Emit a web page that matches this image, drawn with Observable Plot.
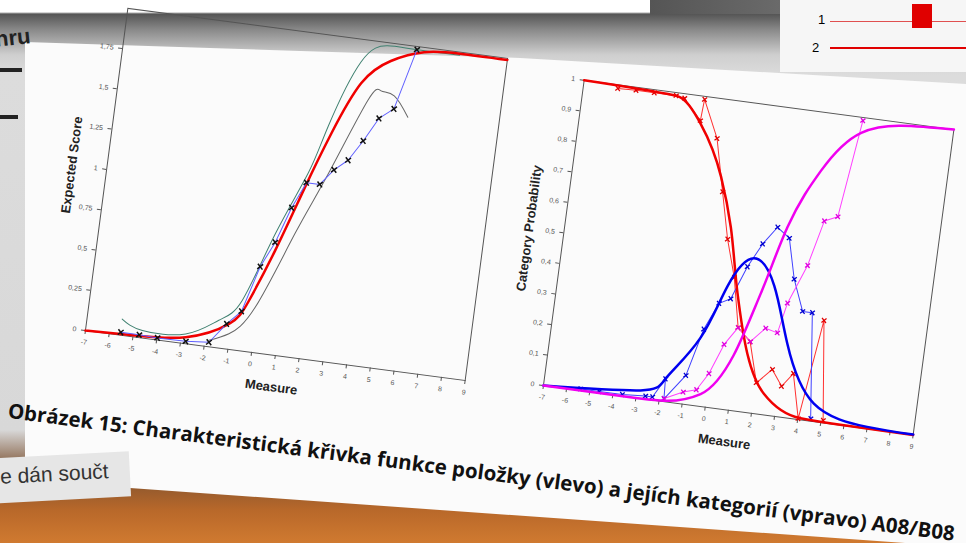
<!DOCTYPE html><html><head><meta charset="utf-8">
<script src="https://cdn.jsdelivr.net/npm/d3@7"></script>
<script src="https://cdn.jsdelivr.net/npm/@observablehq/plot@0.6"></script>
<style>
body{margin:0;width:966px;height:543px;overflow:hidden;position:relative;font-family:Arial,"Liberation Sans",sans-serif;
background:linear-gradient(180deg,#fff 0px,#fff 12px,#555 14px,#8a8a8a 30px,#cfcfcf 55px,#dcdcdc 75px,#d8d8d8 430px,#7a5030 470px,#b8682a 510px,#d07a30 543px);}
.abs{position:absolute}
</style></head><body>
<div class="abs" style="left:650px;top:0;width:316px;height:14px;background:linear-gradient(90deg,#555,#888)"></div>
<div class="abs" style="left:780px;top:0;width:186px;height:72px;background:#f6f6f6"></div>
<div class="abs" style="left:818px;top:12px;font-size:13px">1</div>
<div class="abs" style="left:812px;top:40px;font-size:13px">2</div>
<div class="abs" style="left:830px;top:21px;width:136px;height:1px;background:#e05050"></div>
<div class="abs" style="left:830px;top:47px;width:136px;height:2px;background:#e00000"></div>
<div class="abs" style="left:912px;top:4px;width:20px;height:24px;background:#e00000"></div>
<div class="abs" style="left:0;top:0;width:966px;height:543px;background:#fbfbfb;clip-path:polygon(25px 42px,520px 58px,966px 84px,966px 543px,905px 543px,130px 488px,25px 478px)"></div>
<div class="abs" style="left:-5px;top:25px;font-size:22px;font-weight:bold;color:#222;transform:rotate(-6deg)">hru</div>
<div class="abs" style="left:0;top:68px;width:22px;height:4px;background:#222"></div>
<div class="abs" style="left:0;top:115px;width:18px;height:4px;background:#222"></div>
<div class="abs" style="left:-10px;top:455px;width:140px;height:45px;background:#e6e6e6;transform:rotate(-3deg)"></div>
<div class="abs" style="left:0;top:462px;font-size:21px;color:#333;transform:rotate(-3deg)">e dán součt</div>
<div class="abs" style="left:10px;top:396px;font-size:20.5px;font-weight:bold;color:#111;white-space:nowrap;transform:rotate(7.4deg);transform-origin:0 0;font-family:'Open Sans',sans-serif">Obrázek 15: Charakteristická křivka funkce položky (vlevo) a jejích kategorií (vpravo) A08/B08</div>
<div id="c1" class="abs"></div>
<div id="c2" class="abs"></div>
<script>
// Left chart: expected score
const modelX = [-7,-5,-2.81,-1.09,-0.4,0.42,1.31,2.11,3.07,4.18,5.51,7,9];
const modelY = [0,0.01,0.04,0.156,0.31,0.64,1.05,1.40,1.73,1.89,1.97,1.99,1.99];
const upperX = [-5.54,-4.64,-2.83,-1.53,-0.67,0.33,1.37,1.94,2.95,3.96,5.08,7];
const upperY = [0.10,0.046,0.06,0.17,0.31,0.74,1.14,1.44,1.86,1.98,1.98,1.98];
const lowerX = [-1.83,-1.04,-0.09,1.15,2.2,3.44,3.94,4.51,5.19];
const lowerY = [0.04,0.096,0.28,0.76,1.15,1.63,1.70,1.68,1.56];
const obsX = [-5.53,-4.75,-3.98,-2.79,-1.82,-1.19,-0.64,-0.11,0.38,0.87,1.35,1.91,2.42,2.95,3.47,4.0,4.57,5.2];
const obsY = [0.018,0.017,0.013,0.015,0.028,0.154,0.243,0.53,0.69,0.915,1.08,1.08,1.18,1.25,1.38,1.53,1.60,1.98];
// Right chart: category probabilities
const c0X = [-7,-3,-1.8,-0.63,0.07,0.73,1.49,2.42,4.12,6,9];
const c0Y = [1,0.99,0.91,0.748,0.59,0.38,0.19,0.068,0.005,0.001,0];
const c1X = [-7,-2.85,-1.8,-0.6,0.27,1.23,2.25,3.13,4.6,7,9];
const c1Y = [0,0.026,0.08,0.22,0.40,0.50,0.42,0.24,0.058,0.006,0.001];
const c2X = [-7,-3,-1.94,-0.27,0.92,1.72,2.48,3.58,5.08,6.74,9];
const c2Y = [0,0,0.002,0.04,0.18,0.39,0.615,0.81,0.95,0.99,1];
const o0X = [-5.52,-4.73,-3.94,-3,-2.63,-1.83,-1.77,-1.02,-0.48,0,0.5,0.95,1.54,2.04,2.64,3.13,3.56,4.02,4.56,5.09];
const o0Y = [0.988,0.99,0.99,0.99,0.985,0.92,0.99,0.87,0.70,0.55,0.43,0.27,0.23,0.10,0.15,0.10,0.146,0.003,0.33,0.008];
const o1X = [-5.4,-4.6,-3.6,-2.6,-2.3,-1.85,-1.8,-1,-0.5,0,0.47,1,1.52,2.06,2.62,3.06,3.6,4.02,4.55];
const o1Y = [0.005,0.005,0.005,0.01,0.01,0.074,0.009,0.094,0.25,0.34,0.36,0.47,0.55,0.61,0.58,0.45,0.35,0.35,0.008];
const o2X = [-1.8,-1.02,-0.47,-0.03,0.45,0.95,1.55,2.12,2.65,2.91,3.55,4.01,4.56,5.08];
const o2Y = [0.01,0.039,0.052,0.11,0.21,0.27,0.23,0.28,0.27,0.37,0.50,0.65,0.67,0.99];

const fmt = d => String(d).replace('.', ',');
const xTicks = d3.range(-7, 10);
const pts = (X, Y) => X.map((x, i) => ({x, y: Y[i]}));

function chart(o){
  return Plot.plot({
    width:o.w, height:o.h, marginLeft:50, marginRight:15, marginTop:15, marginBottom:45,
    style:{fontFamily:"Arial, 'Liberation Sans', sans-serif", fontSize:"7px", color:"#555", background:"transparent", overflow:"visible"},
    x:{domain:[-7,9], ticks:xTicks, tickFormat:fmt, label:"Measure", labelAnchor:"center", labelArrow:"none", labelOffset:36, tickSize:4},
    y:{domain:o.yd, ticks:o.yt, tickFormat:fmt, label:o.yl, labelAnchor:"center", labelArrow:"none", labelOffset:40, tickSize:4},
    marks:[Plot.frame({stroke:"#555"}), ...o.marks]
  });
}
function styleLabels(svg){
  svg.querySelectorAll("g[aria-label='x-axis label'] text, g[aria-label='y-axis label'] text").forEach(t=>{t.style.fontSize="13px";t.style.fontWeight="bold";t.style.fill="#222";});
}
function place(el, svg, ox, oy, h, rot){
  el.appendChild(svg);
  el.style.left = (ox-50)+"px"; el.style.top = (oy-(h-45))+"px";
  el.style.transformOrigin = "50px "+(h-45)+"px";
  el.style.transform = "rotate("+rot+"deg)";
}
const c1 = chart({w:448,h:385,yd:[0,2],yt:[0,0.25,0.5,0.75,1,1.25,1.5,1.75],yl:"Expected Score",marks:[
  Plot.line(pts(upperX,upperY),{x:"x",y:"y",stroke:"#3f8070",strokeWidth:1,curve:"natural"}),
  Plot.line(pts(lowerX,lowerY),{x:"x",y:"y",stroke:"#666",strokeWidth:1,curve:"natural"}),
  Plot.line(pts(modelX,modelY),{x:"x",y:"y",stroke:"#f00000",strokeWidth:2.5,curve:"natural"}),
  Plot.line(pts(obsX,obsY),{x:"x",y:"y",stroke:"#6060ff",strokeWidth:1}),
  Plot.dot(pts(obsX,obsY),{x:"x",y:"y",symbol:"times",r:2.5,stroke:"#111",strokeWidth:1.5})
]});
styleLabels(c1);
place(document.getElementById("c1"), c1, 85, 330, 385, 7.5);
const c2 = chart({w:438,h:368,yd:[0,1],yt:d3.range(0,11).map(i=>i/10),yl:"Category Probability",marks:[
  Plot.line(pts(o0X,o0Y),{x:"x",y:"y",stroke:"#ff3030",strokeWidth:1}),
  Plot.dot(pts(o0X,o0Y),{x:"x",y:"y",symbol:"times",r:2.2,stroke:"#e00000",strokeWidth:1.3}),
  Plot.line(pts(o1X,o1Y),{x:"x",y:"y",stroke:"#4040ff",strokeWidth:1}),
  Plot.dot(pts(o1X,o1Y),{x:"x",y:"y",symbol:"times",r:2.2,stroke:"#0000d0",strokeWidth:1.3}),
  Plot.line(pts(o2X,o2Y),{x:"x",y:"y",stroke:"#ff40ff",strokeWidth:1}),
  Plot.dot(pts(o2X,o2Y),{x:"x",y:"y",symbol:"times",r:2.2,stroke:"#e000e0",strokeWidth:1.3}),
  Plot.line(pts(c0X,c0Y),{x:"x",y:"y",stroke:"#f00000",strokeWidth:2.5,curve:"monotone-x"}),
  Plot.line(pts(c1X,c1Y),{x:"x",y:"y",stroke:"#0000f0",strokeWidth:2.5,curve:"natural"}),
  Plot.line(pts(c2X,c2Y),{x:"x",y:"y",stroke:"#f000f0",strokeWidth:2.5,curve:"monotone-x"})
]});
styleLabels(c2);
place(document.getElementById("c2"), c2, 543, 385, 368, 7.6);
</script></body></html>
